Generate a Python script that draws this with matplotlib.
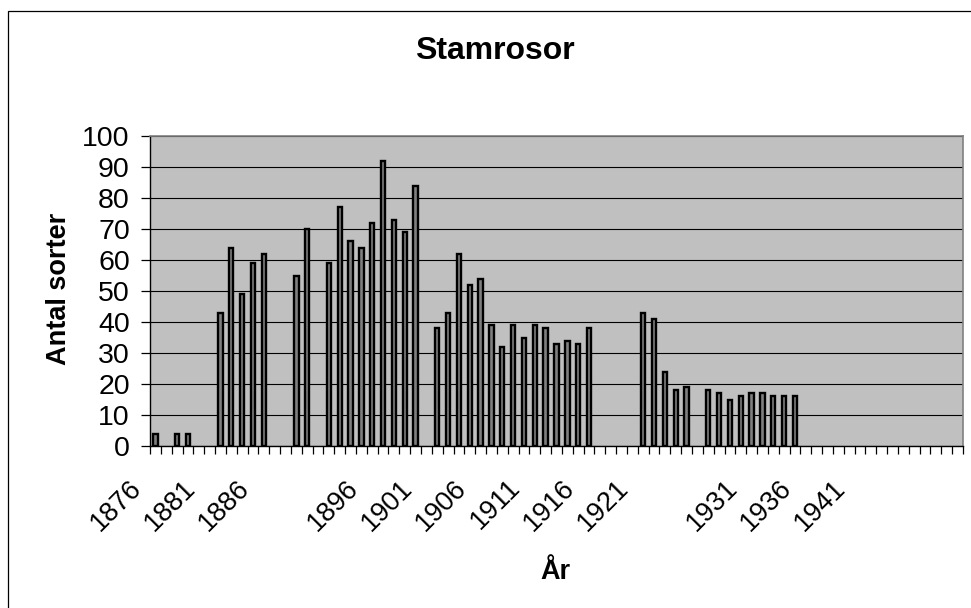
import numpy as np
import matplotlib
matplotlib.use('Agg')
import matplotlib.pyplot as plt
from matplotlib.patches import Rectangle
from matplotlib.transforms import ScaledTranslation

plt.rcParams['font.family'] = ['Liberation Sans', 'DejaVu Sans']

# one category per year, None = no bar
years = list(range(1876, 1951))
counts = [4, None, 4, 4, None, None, 43, 64, 49, 59,
          62, None, None, 55, 70, None, 59, 77, 66, 64,
          72, 92, 73, 69, 84, None, 38, 43, 62, 52,
          54, 39, 32, 39, 35, 39, 38, 33, 34, 33,
          38, None, None, None, None, 43, 41, 24, 18, 19,
          None, 18, 17, 15, 16, 17, 17, 16, 16, 16,
          None, None, None, None, None, None, None, None, None, None,
          None, None, None, None, None]
label_years = [1876, 1881, 1886, 1896, 1901, 1906, 1911, 1916, 1921, 1931, 1936, 1941]
y_ticks = list(range(0, 101, 10))

fig = plt.figure(figsize=(9.71, 6.08), dpi=100)
fig.patches.append(Rectangle((0.0082, -0.1), 1.2, 0.9819 + 0.1, transform=fig.transFigure,
                             fill=False, edgecolor='black', linewidth=0.9))

ax = fig.add_axes([150/971, 1 - 446/608, (963 - 150)/971, (446 - 136)/608])
ax.set_facecolor('#C0C0C0')

pos = [i for i, c in enumerate(counts) if c is not None]
vals = [c for c in counts if c is not None]
ax.bar(pos, vals, width=0.4, color='#808080', edgecolor='black', linewidth=1.7, zorder=3)

ax.set_xlim(-0.5, len(years) - 0.5)
ax.set_ylim(0, 100)
ax.set_yticks(y_ticks)
ax.yaxis.grid(True, color='black', linewidth=0.8)
ax.set_axisbelow(True)

# tick marks between categories, labels on category centres
ax.set_xticks(np.arange(-0.5, len(years), 1.0))
ax.set_xticklabels([])
ax.set_xticks([years.index(y) for y in label_years], minor=True)
ax.set_xticklabels([str(y) for y in label_years], minor=True, rotation=45,
                   ha='right', va='center', rotation_mode='anchor', fontsize=19.5)
ax.tick_params(axis='x', which='major', direction='out', length=6, width=0.9, color='black')
ax.tick_params(axis='x', which='minor', length=0, pad=0)
off = ScaledTranslation(-0.18, -0.38, fig.dpi_scale_trans)
for lab in ax.xaxis.get_minorticklabels():
    lab.set_transform(lab.get_transform() + off)

ax.tick_params(axis='y', direction='out', length=6.5, width=0.9, labelsize=20.5, pad=8)

for s in ['left', 'bottom']:
    ax.spines[s].set_color('black')
    ax.spines[s].set_linewidth(1.0)
for s in ['top', 'right']:
    ax.spines[s].set_color('#808080')
    ax.spines[s].set_linewidth(1.2)

fig.text(495/971, 1 - 51/608, 'Stamrosor', ha='center', va='center', fontsize=23, fontweight='bold')
fig.text(59/971, 1 - 289/608, 'Antal sorter', ha='center', va='center', rotation=90,
         fontsize=19.5, fontweight='bold')
fig.text(555/971, 1 - 579/608, 'År', ha='center', va='baseline', fontsize=19.5, fontweight='bold')

fig.savefig('out.png', dpi=100)
